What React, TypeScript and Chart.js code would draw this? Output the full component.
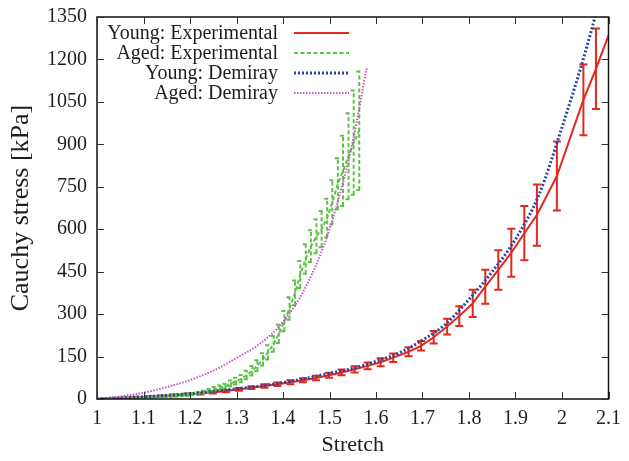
import React, { useEffect, useRef } from 'react';
import { Chart, registerables } from 'chart.js';

Chart.register(...registerables);

const FONT = "'Liberation Serif', 'Times New Roman', serif";
const TEXT_COLOR = '#1e1e1e';

const xTickValues = [1, 1.1, 1.2, 1.3, 1.4, 1.5, 1.6, 1.7, 1.8, 1.9, 2, 2.1];
const xTickLabels = ['1', '1.1', '1.2', '1.3', '1.4', '1.5', '1.6', '1.7', '1.8', '1.9', '2', '2.1'];
const yTickValues = [0, 150, 300, 450, 600, 750, 900, 1050, 1200, 1350];
const yTickLabels = ['0', '150', '300', '450', '600', '750', '900', '1050', '1200', '1350'];

const seriesLabels = ['Young: Experimental', 'Aged: Experimental', 'Young: Demiray', 'Aged: Demiray'];

// Young: experimental (mean ± error)
const youngExpStretch = [1.0, 1.028, 1.055, 1.083, 1.111, 1.139, 1.166, 1.194, 1.222, 1.249, 1.277, 1.305, 1.332, 1.36, 1.388, 1.416, 1.443, 1.471, 1.499, 1.526, 1.554, 1.582, 1.61, 1.637, 1.67, 1.697, 1.724, 1.753, 1.779, 1.808, 1.835, 1.863, 1.891, 1.919, 1.946, 1.989, 2.046, 2.073, 2.1];
const youngExpStress = [0, 2, 4, 6, 8, 10, 13, 16, 19, 23, 28, 34, 40, 46, 52, 59, 66, 74, 84, 94, 105, 117, 130, 146, 167, 188, 218, 256, 293, 338, 397, 456, 517, 586, 650, 788, 1057, 1167, 1285];
const youngExpError = [0, 1, 1, 2, 2, 2, 3, 3, 3, 4, 4, 5, 5, 6, 6, 7, 7, 8, 9, 10, 11, 12, 14, 15, 16, 17, 22, 28, 35, 48, 60, 70, 85, 96, 108, 122, 125, 142, 0];

// Aged: experimental (mean ± error)
const agedExpStretch = [1.0, 1.012, 1.023, 1.035, 1.046, 1.058, 1.069, 1.081, 1.092, 1.104, 1.115, 1.127, 1.138, 1.15, 1.161, 1.173, 1.184, 1.196, 1.207, 1.219, 1.23, 1.242, 1.253, 1.265, 1.276, 1.288, 1.299, 1.311, 1.322, 1.334, 1.345, 1.357, 1.368, 1.38, 1.391, 1.403, 1.414, 1.426, 1.437, 1.449, 1.46, 1.472, 1.483, 1.495, 1.506, 1.518, 1.529, 1.541, 1.552, 1.564];
const agedExpStress = [0, 1, 1, 2, 2, 3, 3, 4, 5, 5, 6, 7, 8, 9, 10, 12, 13, 15, 17, 19, 24, 29, 35, 40, 45, 55, 63, 72, 85, 100, 118, 140, 165, 195, 230, 275, 320, 375, 440, 495, 540, 575, 600, 640, 695, 761, 806, 858, 906, 948];
const agedExpError = [0, 1, 1, 1, 1, 1, 1, 1, 2, 2, 2, 2, 2, 3, 3, 3, 3, 4, 4, 5, 5, 6, 7, 8, 9, 10, 12, 13, 15, 17, 19, 22, 25, 28, 32, 36, 40, 44, 48, 52, 56, 60, 64, 68, 78, 90, 124, 152, 184, 209];

// Young: Demiray model
const youngDemStretch = [1.0, 1.05, 1.1, 1.15, 1.2, 1.25, 1.3, 1.35, 1.4, 1.45, 1.5, 1.55, 1.6, 1.65, 1.7, 1.75, 1.8, 1.85, 1.9, 1.95, 2.0, 2.05, 2.1];
const youngDemStress = [0, 4, 8, 13, 19, 27, 36, 46, 58, 73, 91, 108, 133, 163, 208, 265, 352, 450, 565, 720, 960, 1225, 1530];

// Aged: Demiray model
const agedDemStretch = [1.0, 1.05, 1.1, 1.15, 1.2, 1.25, 1.3, 1.35, 1.4, 1.45, 1.5, 1.55, 1.58];
const agedDemStress = [0, 9, 22, 42, 67, 100, 145, 195, 272, 400, 600, 910, 1172];

const seriesColors = ['#e3281c', '#5cc247', '#2a43a5', '#cc4fcc'];
const seriesDashes = [[], [4, 2.5], [2, 2], [1.5, 1.5]];
const seriesWidths = [2, 2, 3, 2];

const toPoints = (xs: number[], ys: number[]) => xs.map((x, i) => ({ x, y: ys[i] }));

const errorBarPlugin = {
  id: 'errorBars',
  afterDatasetDraw(chart: any, args: any) {
    const ds = chart.data.datasets[args.index];
    const errs: number[] | undefined = ds.errors;
    if (!errs) return;
    const { ctx, chartArea: a } = chart;
    const xs = chart.scales.x;
    const ys = chart.scales.y;
    const cap = ds.capHalf || 3.5;
    ctx.save();
    ctx.beginPath();
    ctx.rect(a.left, a.top, a.right - a.left, a.bottom - a.top);
    ctx.clip();
    ctx.strokeStyle = ds.borderColor;
    ctx.lineWidth = ds.borderWidth;
    ctx.setLineDash(ds.borderDash || []);
    ds.data.forEach((p: any, i: number) => {
      const e = errs[i];
      if (!e) return;
      const px = xs.getPixelForValue(p.x);
      const y1 = ys.getPixelForValue(p.y - e);
      const y2 = ys.getPixelForValue(p.y + e);
      ctx.beginPath();
      ctx.moveTo(px, y1);
      ctx.lineTo(px, y2);
      ctx.moveTo(px - cap, y1);
      ctx.lineTo(px + cap, y1);
      ctx.moveTo(px - cap, y2);
      ctx.lineTo(px + cap, y2);
      ctx.stroke();
    });
    ctx.restore();
  },
};

const framePlugin = {
  id: 'frame',
  afterDatasetsDraw(chart: any) {
    const { ctx, chartArea: a } = chart;
    const xs = chart.scales.x;
    const ys = chart.scales.y;
    const tick = 7;
    ctx.save();
    ctx.strokeStyle = '#111';
    ctx.lineWidth = 1.5;
    ctx.setLineDash([]);
    ctx.strokeRect(a.left, a.top, a.right - a.left, a.bottom - a.top);
    ctx.lineWidth = 1;
    ctx.strokeStyle = '#333';
    ctx.beginPath();
    xTickValues.forEach((v) => {
      const px = Math.round(xs.getPixelForValue(v)) + 0.5;
      ctx.moveTo(px, a.bottom);
      ctx.lineTo(px, a.bottom - tick);
      ctx.moveTo(px, a.top);
      ctx.lineTo(px, a.top + tick);
    });
    yTickValues.forEach((v) => {
      const py = Math.round(ys.getPixelForValue(v)) + 0.5;
      ctx.moveTo(a.left, py);
      ctx.lineTo(a.left + tick, py);
      ctx.moveTo(a.right, py);
      ctx.lineTo(a.right - tick, py);
    });
    ctx.stroke();
    ctx.restore();
  },
  afterDraw(chart: any) {
    const { ctx, chartArea: a } = chart;
    const textRight = a.left + 181;
    const sampleStart = a.left + 197;
    const sampleEnd = a.left + 252;
    const firstRow = a.top + 16;
    const rowGap = 20;
    ctx.save();
    ctx.font = `20px ${FONT}`;
    ctx.textAlign = 'right';
    ctx.textBaseline = 'middle';
    chart.data.datasets.forEach((ds: any, i: number) => {
      const y = firstRow + i * rowGap;
      ctx.fillStyle = TEXT_COLOR;
      ctx.fillText(ds.label, textRight, y + 1);
      ctx.strokeStyle = ds.borderColor;
      ctx.lineWidth = ds.borderWidth;
      ctx.setLineDash(ds.borderDash || []);
      ctx.beginPath();
      ctx.moveTo(sampleStart, y);
      ctx.lineTo(sampleEnd, y);
      ctx.stroke();
    });
    ctx.restore();
  },
};

export default function App() {
  const canvasRef = useRef<HTMLCanvasElement | null>(null);

  useEffect(() => {
    const canvas = canvasRef.current;
    if (!canvas) return;
    const seriesData = [
      toPoints(youngExpStretch, youngExpStress),
      toPoints(agedExpStretch, agedExpStress),
      toPoints(youngDemStretch, youngDemStress),
      toPoints(agedDemStretch, agedDemStress),
    ];
    const seriesErrors = [youngExpError, agedExpError, undefined, undefined];
    const chart = new Chart(canvas, {
      type: 'line',
      data: {
        datasets: seriesLabels.map((label, i) => ({
          label,
          data: seriesData[i],
          errors: seriesErrors[i],
          capHalf: i === 0 ? 4 : 3,
          borderColor: seriesColors[i],
          backgroundColor: seriesColors[i],
          borderDash: seriesDashes[i],
          borderWidth: seriesWidths[i],
          pointRadius: 0,
          fill: false,
          order: 3 - i,
          cubicInterpolationMode: i >= 2 ? 'monotone' : 'default',
          tension: 0,
        })) as any,
      },
      options: {
        animation: false,
        responsive: false,
        maintainAspectRatio: false,
        layout: { padding: { top: 17, right: 15, left: 0, bottom: 0 } },
        plugins: { legend: { display: false }, tooltip: { enabled: false } },
        scales: {
          x: {
            type: 'linear',
            min: 1,
            max: 2.1,
            grid: { display: false, drawTicks: false },
            border: { display: false },
            afterBuildTicks: (s: any) => {
              s.ticks = xTickValues.map((v) => ({ value: v }));
            },
            afterFit: (s: any) => {
              s.height = 62;
            },
            ticks: {
              padding: 8,
              color: TEXT_COLOR,
              autoSkip: false,
              maxRotation: 0,
              font: { family: FONT, size: 20 },
              callback: (_v: any, i: number) => xTickLabels[i],
            },
            title: {
              display: true,
              text: 'Stretch',
              color: TEXT_COLOR,
              font: { family: FONT, size: 22 },
              padding: { top: 0, bottom: 3 },
            },
          },
          y: {
            type: 'linear',
            min: 0,
            max: 1350,
            grid: { display: false, drawTicks: false },
            border: { display: false },
            afterBuildTicks: (s: any) => {
              s.ticks = yTickValues.map((v) => ({ value: v }));
            },
            afterFit: (s: any) => {
              s.width = 97;
              s.paddingTop = 0;
              s.paddingBottom = 0;
            },
            ticks: {
              padding: 10,
              color: TEXT_COLOR,
              autoSkip: false,
              font: { family: FONT, size: 20, lineHeight: 0.5 },
              callback: (_v: any, i: number) => yTickLabels[i],
            },
            title: {
              display: true,
              text: 'Cauchy stress [kPa]',
              color: TEXT_COLOR,
              font: { family: FONT, size: 26 },
              padding: { top: 6, bottom: 0 },
            },
          },
        },
      } as any,
      plugins: [errorBarPlugin, framePlugin],
    });
    return () => chart.destroy();
  }, []);

  return (
    <div style={{ position: 'fixed', left: 0, top: 0, width: 629, height: 461, background: '#fff' }}>
      <canvas ref={canvasRef} width={629} height={461} style={{ display: 'block' }} />
    </div>
  );
}
